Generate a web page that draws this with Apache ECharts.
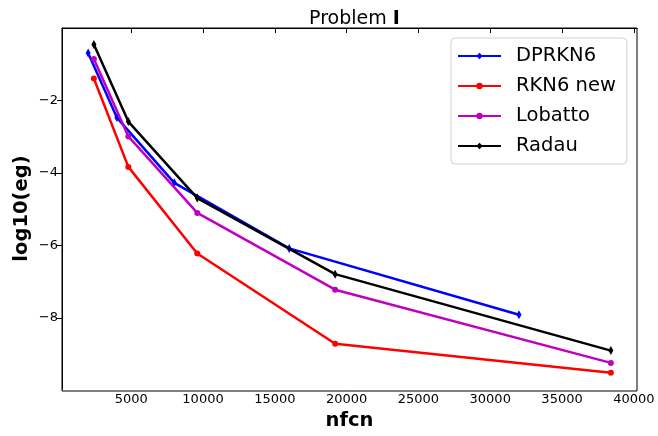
<!DOCTYPE html>
<html><head><meta charset="utf-8">
<script src="https://cdn.jsdelivr.net/npm/echarts@6/dist/echarts.min.js"></script>
<style>html,body{margin:0;padding:0;background:#fff}#c{width:658px;height:436px}</style>
</head><body><div id="c"></div>
<script>
const seriesNames = ['DPRKN6', 'RKN6 new', 'Lobatto', 'Radau'];
const dprkn6X = [2000, 4000, 8000, 16000, 32000];
const dprkn6Y = [-0.69, -2.47, -4.27, -6.08, -7.91];
const rkn6X = [2400, 4800, 9600, 19200, 38400];
const rkn6Y = [-1.39, -3.83, -6.22, -8.71, -9.51];
const lobattoX = [2400, 4800, 9600, 19200, 38400];
const lobattoY = [-0.85, -2.99, -5.10, -7.22, -9.24];
const radauX = [2400, 4800, 9600, 19200, 38400];
const radauY = [-0.45, -2.58, -4.69, -6.79, -8.90];
const xTicks = [5000, 10000, 15000, 20000, 25000, 30000, 35000, 40000];
const yTicks = [-8, -6, -4, -2];
const colors = ['#0000ff', '#ff0000', '#bf00bf', '#000000'];

const pairs = (xs, ys) => xs.map((x, i) => [x, ys[i]]);
const dataSets = [pairs(dprkn6X, dprkn6Y), pairs(rkn6X, rkn6Y), pairs(lobattoX, lobattoY), pairs(radauX, radauY)];
const symbols = ['diamond', 'circle', 'circle', 'diamond'];
const symSizes = [[5, 9], 6, 6, [5, 9]];
const FONT = 'DejaVu Sans';

const chart = echarts.init(document.getElementById('c'), null, {renderer: 'canvas'});
chart.setOption({
  animation: false,
  backgroundColor: '#fff',
  title: {
    text: '{n|Problem }{b|I}',
    left: 349.5, textAlign: 'center', top: 5,
    textStyle: {
      fontWeight: 'normal',
      rich: {
        n: {fontFamily: FONT, fontSize: 19, fontWeight: 'normal', color: '#000'},
        b: {fontFamily: FONT, fontSize: 19, fontWeight: 'bold', color: '#000'}
      }
    }
  },
  grid: {left: 62, right: 21, top: 28, bottom: 45, containLabel: false},
  legend: {
    left: 451, top: 38, orient: 'vertical',
    data: seriesNames,
    itemWidth: 43, itemHeight: 8, itemGap: 10,
    padding: [8, 11, 8, 6],
    backgroundColor: '#fff', borderColor: '#d0d0d0', borderWidth: 1, borderRadius: 4,
    textStyle: {fontFamily: FONT, fontSize: 19.5, color: '#000', padding: [0, 0, 0, 10]}
  },
  xAxis: {
    type: 'value', min: 180, max: 40220,
    name: 'nfcn', nameLocation: 'middle', nameGap: 21,
    nameTextStyle: {fontFamily: FONT, fontSize: 19.5, fontWeight: 'bold', color: '#000'},
    axisLine: {show: true, lineStyle: {color: '#000', width: 1}},
    axisTick: {show: true, inside: false, length: 5, customValues: xTicks, lineStyle: {color: '#000'}},
    axisLabel: {customValues: xTicks, fontFamily: FONT, fontSize: 13, color: '#000', margin: 4,
      formatter: v => String(v), showMinLabel: true, showMaxLabel: true},
    splitLine: {show: false}
  },
  yAxis: {
    type: 'value', min: -9.963, max: 0.003,
    name: 'log10(eg)', nameLocation: 'middle', nameGap: 30, nameRotate: 90,
    nameMoveOverlap: false,
    nameTextStyle: {fontFamily: FONT, fontSize: 19.5, fontWeight: 'bold', color: '#000'},
    axisLine: {show: true, lineStyle: {color: '#000', width: 1}},
    axisTick: {show: true, inside: false, length: 5, customValues: yTicks, lineStyle: {color: '#000'}},
    axisLabel: {customValues: yTicks, fontFamily: FONT, fontSize: 13, color: '#000', margin: 4,
      formatter: v => String(v).replace('-', '\u2212')},
    splitLine: {show: false}
  },
  series: seriesNames.map((name, i) => ({
    name, type: 'line', data: dataSets[i],
    symbol: symbols[i], symbolSize: symSizes[i], showAllSymbol: true,
    lineStyle: {color: colors[i], width: 2.5},
    itemStyle: {color: colors[i], borderWidth: 0},
    z: 2 + i
  }))
});
chart.setOption({
  graphic: [{
    type: 'rect', shape: {x: 62, y: 28, width: 575, height: 363},
    style: {fill: null, stroke: '#000', lineWidth: 1}, silent: true, z: -1
  }]
});
</script></body></html>
